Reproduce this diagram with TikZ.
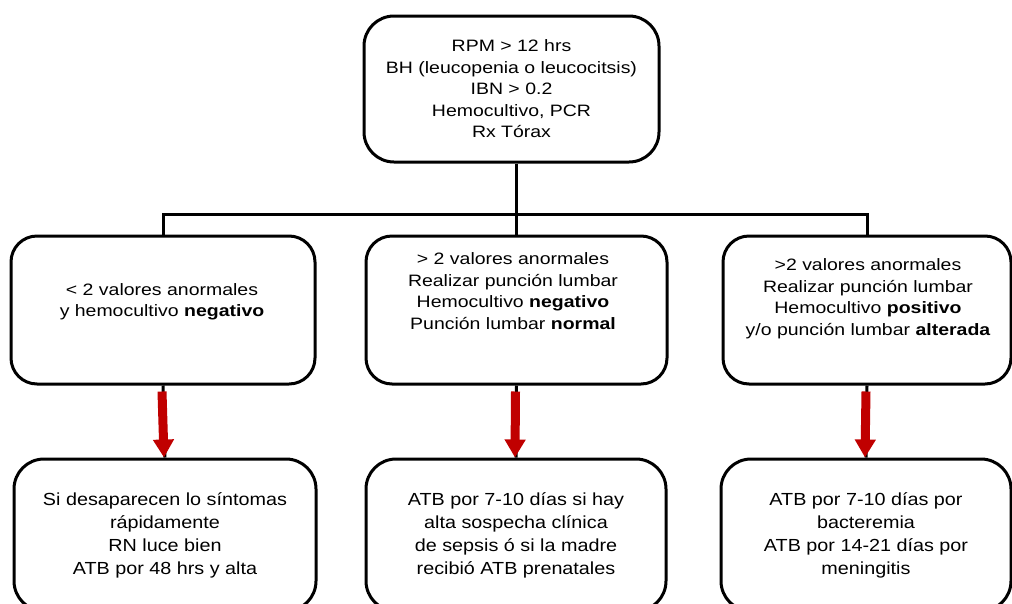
\documentclass[tikz,border=0pt]{standalone}
\usepackage{fontspec}
\setmainfont{Liberation Sans}
\newfontfamily\rowfont[FakeStretch=1.18]{Liberation Sans}
\newfontfamily\endfont[FakeStretch=1.13]{Liberation Sans}
\usetikzlibrary{arrows.meta}
\definecolor{fred}{HTML}{C00000}

\begin{document}
\begin{tikzpicture}[x=1pt, y=-1pt,
  box/.style={draw=black, line width=3pt, rounded corners=26pt, inner sep=0pt},
  txt/.style={align=center, inner sep=0pt, font=\rowfont\fontsize{16.5}{21.5}\selectfont},
  resbox/.style={box, align=center, rounded corners=30pt, font=\endfont\fontsize{17.5}{23}\selectfont},
  link/.style={line width=3pt},
  redarr/.style={-{Triangle[width=20pt, length=18pt]}, fred, line width=9pt}]
\useasboundingbox (0,0) rectangle (1012,603);
\node[box, txt, minimum width=295pt, minimum height=146pt, rounded corners=30pt] (tests) at (511.5,89)
  {RPM > 12 hrs\\BH (leucopenia o leucocitsis)\\IBN > 0.2\\Hemocultivo, PCR\\Rx Tórax};
% second row
\node[box, minimum width=304pt, minimum height=148pt] (few) at (163,310) {};
\node[box, minimum width=301pt, minimum height=148pt] (lpneg) at (516.5,310) {};
\node[box, minimum width=288pt, minimum height=148pt] (lppos) at (867,310) {};
\node[txt] (fewtxt) at (162,302) {< 2 valores anormales\\y hemocultivo \textbf{negativo}};
\node[txt] (lpnegtxt) at (513,291) {> 2 valores anormales\\Realizar punción lumbar\\Hemocultivo \textbf{negativo}\\Punción lumbar \textbf{normal}};
\node[txt] (lppostxt) at (868,298.5) {>2 valores anormales\\Realizar punción lumbar\\Hemocultivo \textbf{positivo}\\y/o punción lumbar \textbf{alterada}};
% third row
\node[resbox, minimum width=302pt, minimum height=152pt] (discharge) at (165,535)
  {Si desaparecen lo síntomas\\rápidamente\\RN luce bien\\ATB por 48 hrs y alta};
\node[resbox, minimum width=300pt, minimum height=152pt] (sepsis) at (516,535)
  {ATB por 7-10 días si hay\\alta sospecha clínica\\de sepsis ó si la madre\\recibió ATB prenatales};
\node[resbox, minimum width=290pt, minimum height=152pt] (mening) at (866,535)
  {ATB por 7-10 días por\\bacteremia\\ATB por 14-21 días por\\meningitis};
% connectors
\coordinate (bus) at (0,214);
\draw[link] (tests.south -| lpneg.north) -- (lpneg.north);
\draw[link] (few.north) -- (few.north |- bus) -- (lppos.north |- bus) -- (lppos.north);
\foreach \a/\b in {few/discharge, lpneg/sepsis, lppos/mening} {
  \draw[link] (\a.south) -- (\b.north);
  \draw[redarr] ([xshift=-1pt, yshift=-6pt]\a.south) -- ([xshift=-1pt]\b.north);
}
\end{tikzpicture}
\end{document}
